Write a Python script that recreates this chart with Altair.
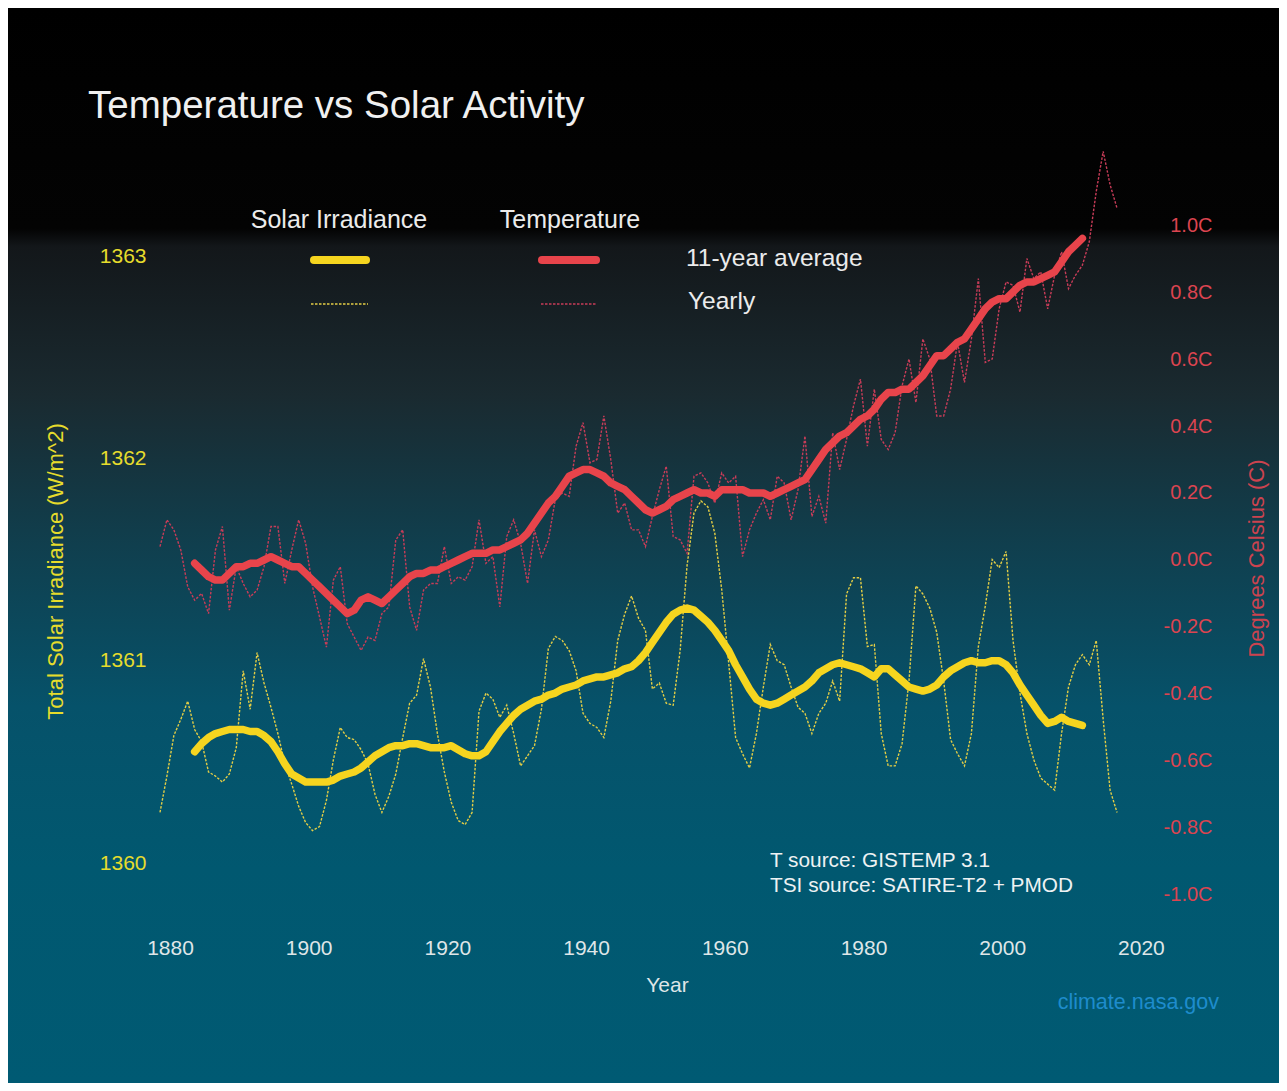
import altair as alt
import pandas as pd

# ---------------- data ----------------
years = list(range(1880, 2019))

temp_yearly = [
    0.04, 0.12, 0.09, 0.03, -0.08, -0.12, -0.10, -0.16, 0.03, 0.10,      # 1880-1889
    -0.15, -0.02, -0.07, -0.11, -0.09, -0.02, 0.10, 0.10, -0.07, 0.03,   # 1890-1899
    0.12, 0.05, -0.08, -0.17, -0.26, -0.06, -0.02, -0.19, -0.23, -0.27,  # 1900-1909
    -0.23, -0.24, -0.16, -0.14, 0.06, 0.09, -0.14, -0.21, -0.09, -0.07,  # 1910-1919
    -0.07, 0.04, -0.07, -0.05, -0.06, -0.02, 0.12, -0.01, 0.01, -0.14,   # 1920-1929
    0.07, 0.12, 0.05, -0.07, 0.09, 0.01, 0.06, 0.18, 0.20, 0.19,         # 1930-1939
    0.34, 0.41, 0.29, 0.30, 0.43, 0.30, 0.14, 0.17, 0.09, 0.09,          # 1940-1949
    0.04, 0.13, 0.21, 0.28, 0.07, 0.06, 0.02, 0.25, 0.26, 0.23,          # 1950-1959
    0.17, 0.26, 0.23, 0.25, 0.01, 0.09, 0.14, 0.18, 0.12, 0.25,          # 1960-1969
    0.23, 0.12, 0.21, 0.37, 0.13, 0.19, 0.11, 0.38, 0.27, 0.36,          # 1970-1979
    0.46, 0.54, 0.34, 0.51, 0.36, 0.33, 0.38, 0.52, 0.60, 0.47,          # 1980-1989
    0.66, 0.60, 0.43, 0.43, 0.51, 0.65, 0.53, 0.66, 0.84, 0.59,          # 1990-1999
    0.60, 0.75, 0.83, 0.82, 0.74, 0.90, 0.84, 0.86, 0.75, 0.85,          # 2000-2009
    0.92, 0.81, 0.85, 0.88, 0.95, 1.10, 1.22, 1.12, 1.05,                # 2010-2018
]

tsi_yearly = [
    1360.25, 1360.43, 1360.63, 1360.71, 1360.80, 1360.66, 1360.60, 1360.45, 1360.43, 1360.40,  # 1880s
    1360.44, 1360.57, 1360.95, 1360.76, 1361.04, 1360.89, 1360.77, 1360.64, 1360.49, 1360.39,  # 1890s
    1360.28, 1360.20, 1360.16, 1360.18, 1360.31, 1360.51, 1360.67, 1360.62, 1360.61, 1360.56,  # 1900s
    1360.49, 1360.34, 1360.25, 1360.33, 1360.44, 1360.62, 1360.79, 1360.83, 1361.01, 1360.87,  # 1910s
    1360.64, 1360.45, 1360.30, 1360.21, 1360.19, 1360.25, 1360.75, 1360.84, 1360.81, 1360.72,  # 1920s
    1360.78, 1360.64, 1360.48, 1360.53, 1360.58, 1360.76, 1361.06, 1361.12, 1361.10, 1361.05,  # 1930s
    1360.95, 1360.74, 1360.69, 1360.67, 1360.62, 1360.80, 1361.10, 1361.23, 1361.32, 1361.21,  # 1940s
    1361.15, 1360.86, 1360.89, 1360.79, 1360.78, 1361.05, 1361.47, 1361.73, 1361.79, 1361.76,  # 1950s
    1361.63, 1361.35, 1360.99, 1360.62, 1360.54, 1360.47, 1360.64, 1360.87, 1361.08, 1361.00,  # 1960s
    1360.98, 1360.87, 1360.77, 1360.74, 1360.64, 1360.74, 1360.79, 1360.90, 1360.80, 1361.33,  # 1970s
    1361.41, 1361.41, 1361.07, 1361.08, 1360.64, 1360.48, 1360.48, 1360.59, 1360.90, 1361.37,  # 1980s
    1361.33, 1361.26, 1361.14, 1360.90, 1360.61, 1360.54, 1360.48, 1360.64, 1361.07, 1361.27,  # 1990s
    1361.50, 1361.46, 1361.54, 1361.10, 1360.84, 1360.64, 1360.51, 1360.42, 1360.39, 1360.36,  # 2000s
    1360.64, 1360.87, 1360.98, 1361.03, 1360.98, 1361.10, 1360.71, 1360.36, 1360.25,           # 2010-2018
]

avg_years = list(range(1885, 2014))

temp_avg = [
    -0.01, -0.03, -0.05, -0.06, -0.06,                                    # 1885-1889
    -0.04, -0.02, -0.02, -0.01, -0.01, 0.00, 0.01, 0.00, -0.01, -0.02,    # 1890s
    -0.02, -0.04, -0.06, -0.08, -0.10, -0.12, -0.14, -0.16, -0.15, -0.12, # 1900s
    -0.11, -0.12, -0.13, -0.11, -0.09, -0.07, -0.05, -0.04, -0.04, -0.03, # 1910s
    -0.03, -0.02, -0.01, 0.00, 0.01, 0.02, 0.02, 0.02, 0.03, 0.03,        # 1920s
    0.04, 0.05, 0.06, 0.08, 0.11, 0.14, 0.17, 0.19, 0.22, 0.25,           # 1930s
    0.26, 0.27, 0.27, 0.26, 0.25, 0.23, 0.22, 0.21, 0.19, 0.17,           # 1940s
    0.15, 0.14, 0.15, 0.16, 0.18, 0.19, 0.20, 0.21, 0.20, 0.20,           # 1950s
    0.19, 0.21, 0.21, 0.21, 0.21, 0.20, 0.20, 0.20, 0.19, 0.20,           # 1960s
    0.21, 0.22, 0.23, 0.24, 0.27, 0.30, 0.33, 0.35, 0.37, 0.38,           # 1970s
    0.40, 0.42, 0.43, 0.45, 0.48, 0.50, 0.50, 0.51, 0.51, 0.53,           # 1980s
    0.55, 0.58, 0.61, 0.61, 0.63, 0.65, 0.66, 0.69, 0.72, 0.75,           # 1990s
    0.77, 0.78, 0.78, 0.80, 0.82, 0.83, 0.83, 0.84, 0.85, 0.86,           # 2000s
    0.89, 0.92, 0.94, 0.96,                                               # 2010-2013
]

tsi_avg = [
    1360.55, 1360.59, 1360.62, 1360.64, 1360.65,                                               # 1885-1889
    1360.66, 1360.66, 1360.66, 1360.65, 1360.65, 1360.63, 1360.60, 1360.55, 1360.49, 1360.44,  # 1890s
    1360.42, 1360.40, 1360.40, 1360.40, 1360.40, 1360.41, 1360.43, 1360.44, 1360.45, 1360.47,  # 1900s
    1360.50, 1360.53, 1360.55, 1360.57, 1360.58, 1360.58, 1360.59, 1360.59, 1360.58, 1360.57,  # 1910s
    1360.57, 1360.57, 1360.58, 1360.56, 1360.54, 1360.53, 1360.53, 1360.55, 1360.60, 1360.65,  # 1920s
    1360.69, 1360.73, 1360.76, 1360.78, 1360.80, 1360.81, 1360.83, 1360.84, 1360.86, 1360.87,  # 1930s
    1360.88, 1360.90, 1360.91, 1360.92, 1360.92, 1360.93, 1360.94, 1360.96, 1360.97, 1361.00,  # 1940s
    1361.04, 1361.09, 1361.14, 1361.19, 1361.23, 1361.25, 1361.26, 1361.25, 1361.22, 1361.19,  # 1950s
    1361.15, 1361.10, 1361.05, 1360.98, 1360.92, 1360.86, 1360.81, 1360.79, 1360.78, 1360.79,  # 1960s
    1360.81, 1360.83, 1360.85, 1360.87, 1360.90, 1360.94, 1360.96, 1360.98, 1360.99, 1360.98,  # 1970s
    1360.97, 1360.96, 1360.94, 1360.92, 1360.96, 1360.96, 1360.93, 1360.90, 1360.87, 1360.86,  # 1980s
    1360.85, 1360.86, 1360.88, 1360.92, 1360.95, 1360.97, 1360.99, 1361.00, 1360.99, 1360.99,  # 1990s
    1361.00, 1361.00, 1360.98, 1360.94, 1360.88, 1360.83, 1360.78, 1360.73, 1360.69, 1360.70,  # 2000s
    1360.72, 1360.70, 1360.69, 1360.68,                                                        # 2010-2013
]

x_ticks = [1880, 1900, 1920, 1940, 1960, 1980, 2000, 2020]
tsi_ticks = [1360, 1361, 1362, 1363]
temp_ticks = [-1.0, -0.8, -0.6, -0.4, -0.2, 0.0, 0.2, 0.4, 0.6, 0.8, 1.0]

# ---------------- tables ----------------
yearly_df = pd.DataFrame({"Year": years, "Temperature": temp_yearly, "TSI": tsi_yearly})
avg_df = pd.DataFrame({"Year": avg_years, "Temperature": temp_avg, "TSI": tsi_avg})
one = pd.DataFrame({"k": [0]})

FONT = "Liberation Sans"
W, H = 990, 800
PAD = {"left": 142, "top": 122, "right": 139, "bottom": 153}

YELLOW = "#f6d51f"
YELLOW_DOT = "#e3cd45"
RED = "#e8444b"
RED_DOT = "#c83c58"

x_enc = alt.X(
    "Year:Q",
    scale=alt.Scale(domain=[1878.56, 2021.31], nice=False, zero=False),
    axis=alt.Axis(
        values=x_ticks, format="d", title="Year", zindex=2,
        grid=False, domain=False, ticks=False, tickSize=0,
        labelColor="#dfe6e8", labelFontSize=21, labelOffset=10,
        labelPadding=18, labelBaseline="middle", labelFont=FONT,
        titleColor="#dfe6e8", titleFontSize=21, titleFont=FONT, titleFontWeight="normal",
        titleX=517, titleY=55, titleBaseline="middle", titleAlign="center",
    ),
)

tsi_y = alt.Y(
    "TSI:Q",
    scale=alt.Scale(domain=[1359.669, 1363.623], nice=False, zero=False),
    axis=alt.Axis(
        orient="left", values=tsi_ticks, format="d", zindex=2,
        grid=False, domain=False, ticks=False, tickSize=0,
        title="Total Solar Irradiance (W/m^2)",
        labelColor="#e6dc2c", labelFontSize=21, labelPadding=4, labelFont=FONT,
        titleColor="#e6dc2c", titleFontSize=22, titleAngle=270,
        titleFont=FONT, titleFontWeight="normal",
        titleX=-95, titleY=441, titleBaseline="middle", titleAlign="center",
    ),
)

temp_y = alt.Y(
    "Temperature:Q",
    scale=alt.Scale(domain=[-1.1045, 1.2836], nice=False, zero=False),
    axis=alt.Axis(
        orient="right", values=temp_ticks, zindex=2,
        grid=False, domain=False, ticks=False, tickSize=0,
        labelExpr="(datum.value < -0.001 ? '-' : '') + format(abs(datum.value), '.1f') + 'C'",
        title="Degrees Celsius (C)",
        labelColor="#dc4450", labelFontSize=20, labelPadding=72, labelAlign="right",
        labelFont=FONT,
        titleColor="#cc434f", titleFontSize=22, titleAngle=270,
        titleFont=FONT, titleFontWeight="normal",
        titleX=116, titleY=428, titleBaseline="middle", titleAlign="center",
    ),
)

# background gradient covering the whole canvas
bg = alt.Chart(one).mark_rect(
    fill=alt.Gradient(
        gradient="linear", x1=0, y1=0, x2=0, y2=1,
        stops=[
            alt.GradientStop(offset=0.0, color="#000000"),
            alt.GradientStop(offset=0.205, color="#030303"),
            alt.GradientStop(offset=0.222, color="#13171a"),
            alt.GradientStop(offset=0.36, color="#1a2a30"),
            alt.GradientStop(offset=0.50, color="#103f4e"),
            alt.GradientStop(offset=0.65, color="#06526a"),
            alt.GradientStop(offset=0.80, color="#015870"),
            alt.GradientStop(offset=1.0, color="#005a73"),
        ],
    )
).encode(
    x=alt.value(-PAD["left"]), x2=alt.value(W + PAD["right"]),
    y=alt.value(-PAD["top"]), y2=alt.value(H + PAD["bottom"]),
)

tsi_year_line = alt.Chart(yearly_df).mark_line(
    color=YELLOW_DOT, strokeWidth=1.4, strokeDash=[2.5, 1.5]
).encode(x=x_enc, y=tsi_y)
tsi_avg_line = alt.Chart(avg_df).mark_line(
    color=YELLOW, strokeWidth=7.5, strokeCap="round", strokeJoin="round"
).encode(x=x_enc, y=tsi_y)
tsi_layer = alt.layer(tsi_year_line, tsi_avg_line)

temp_year_line = alt.Chart(yearly_df).mark_line(
    color=RED_DOT, strokeWidth=1.4, strokeDash=[2.5, 1.5]
).encode(x=x_enc, y=temp_y)
temp_avg_line = alt.Chart(avg_df).mark_line(
    color=RED, strokeWidth=7.5, strokeCap="round", strokeJoin="round"
).encode(x=x_enc, y=temp_y)
temp_layer = alt.layer(temp_year_line, temp_avg_line)


def label(text, x, y, size, color, align="left"):
    return alt.Chart(one).mark_text(
        text=text, font=FONT, fontSize=size, color=color,
        align=align, baseline="middle",
    ).encode(x=alt.value(x), y=alt.value(y))


def swatch(x1, x2, y, color, width, dash=None):
    kw = dict(color=color, strokeWidth=width, strokeCap="round")
    if dash:
        kw = dict(color=color, strokeWidth=width, strokeDash=dash)
    return alt.Chart(one).mark_rule(**kw).encode(
        x=alt.value(x1), x2=alt.value(x2), y=alt.value(y)
    )


annotations = [
    label("Temperature vs Solar Activity", -62, -24, 38.5, "#f0f0f0"),
    label("Solar Irradiance", 189, 90, 25, "#ebebeb", "center"),
    label("Temperature", 420, 90, 25, "#ebebeb", "center"),
    swatch(164, 216, 130, YELLOW, 8),
    swatch(392, 446, 130, RED, 8),
    swatch(161, 218, 174, YELLOW_DOT, 1.6, [2.5, 1.5]),
    swatch(391, 447, 174, RED_DOT, 1.6, [2.5, 1.5]),
    label("11-year average", 536, 129, 24.5, "#ebebeb"),
    label("Yearly", 538, 172, 24.5, "#ebebeb"),
    label("T source: GISTEMP 3.1", 620, 731, 20.8, "#eef2f3"),
    label("TSI source: SATIRE-T2 + PMOD", 620, 756, 20.8, "#eef2f3"),
    label("climate.nasa.gov", 1069, 873, 21.5, "#1e8ccc", "right"),
]

chart = (
    alt.layer(bg, tsi_layer, temp_layer, *annotations)
    .resolve_scale(y="independent")
    .properties(
        width=W, height=H, padding=PAD,
        autosize=alt.AutoSizeParams(type="none"),
        background="white",
    )
    .configure_view(stroke=None)
)

chart.save("out.html", embed_options={"renderer": "svg", "actions": False})
